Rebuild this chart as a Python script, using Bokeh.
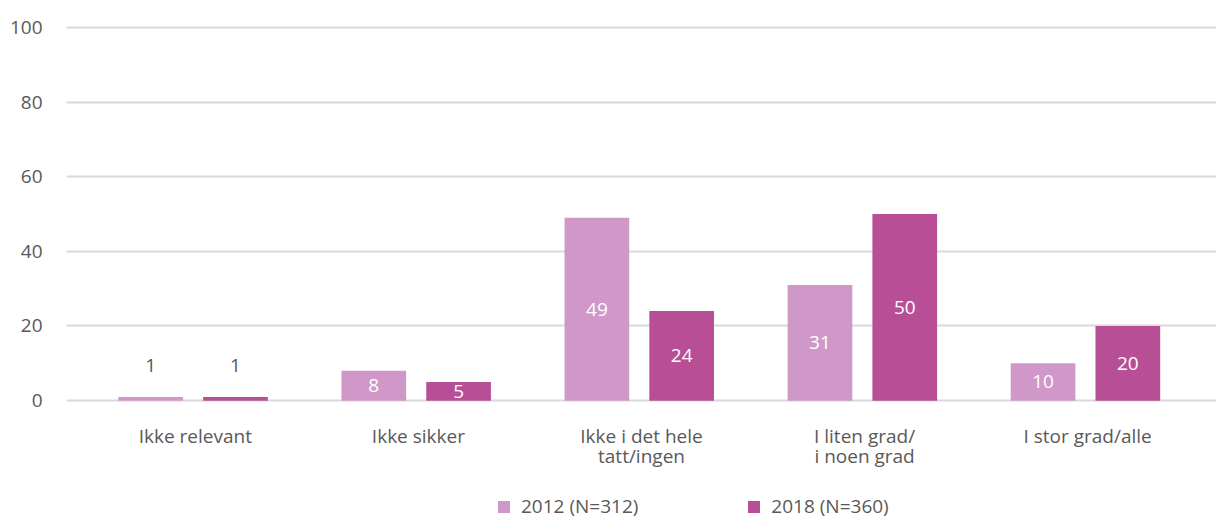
from bokeh.plotting import figure
from bokeh.layouts import column
from bokeh.models import ColumnDataSource, FactorRange, Legend, LegendItem, Range1d
from bokeh.core.properties import value
from bokeh.transform import dodge
from bokeh.embed import file_html
from bokeh.resources import INLINE

categories = ["Ikke relevant", "Ikke sikker", "Ikke i det hele\ntatt/ingen",
              "I liten grad/\ni noen grad", "I stor grad/alle"]
series_names = ["2012 (N=312)", "2018 (N=360)"]
values_2012 = [1, 8, 49, 31, 10]
values_2018 = [1, 5, 24, 50, 20]
y_ticks = [0, 20, 40, 60, 80, 100]

colors = ["#D098C8", "#B84F96"]
font = "Open Sans"
fs = "19px"
gray = "#595959"

p = figure(width=1216, height=494, output_backend="svg", toolbar_location=None,
           x_range=FactorRange(factors=categories, range_padding=0.031),
           y_range=Range1d(-0.5, 100.5), min_border_top=25, min_border_left=66,
           min_border_right=0, min_border_bottom=92, outline_line_color=None)

def label_pos(vals):
    ys, offs, cols = [], [], []
    for v in vals:
        if v < 3:
            ys.append(v); offs.append(-31); cols.append(gray)
        else:
            ys.append(v / 2); offs.append(0); cols.append("white")
    return ys, offs, cols

for vals, off, col in [(values_2012, -0.2, colors[0]), (values_2018, 0.18, colors[1])]:
    ly, lo, lc = label_pos(vals)
    src = ColumnDataSource(dict(cat=categories, val=vals, ly=ly, lo=lo, lc=lc,
                                txt=[str(v) for v in vals]))
    p.vbar(x=dodge("cat", off, range=p.x_range), top="val", bottom=0, width=0.29,
           source=src, color=col, line_color=None)
    p.text(x=dodge("cat", off, range=p.x_range), y="ly", text="txt", y_offset="lo",
           source=src, text_color="lc", text_align="center", text_baseline="middle",
           text_font_size=fs, text_font=value(font))

p.yaxis.ticker = y_ticks
p.yaxis.axis_line_color = None
p.yaxis.major_tick_line_color = None
p.yaxis.minor_tick_line_color = None
p.yaxis.major_label_text_font_size = fs
p.yaxis.major_label_text_color = gray
p.yaxis.major_label_text_font = font
p.yaxis.major_label_standoff = 18

p.xaxis.axis_line_color = None
p.xaxis.major_tick_line_color = None
p.xaxis.major_label_text_font_size = fs
p.xaxis.major_label_text_color = gray
p.xaxis.major_label_text_font = font
p.xaxis.major_label_text_line_height = 0.8
p.xaxis.major_label_standoff = 14

p.xgrid.grid_line_color = None
p.ygrid.ticker = y_ticks
p.ygrid.grid_line_color = "#D9D9D9"
p.ygrid.grid_line_width = 2

# legend strip below the chart (zero-height proxy bars carry the legend swatches)
lp = figure(width=1216, height=24, output_backend="svg", toolbar_location=None,
            x_range=Range1d(0, 1), y_range=Range1d(0, 1),
            x_axis_type=None, y_axis_type=None, min_border=0, outline_line_color=None)
lp.xgrid.grid_line_color = None
lp.ygrid.grid_line_color = None
items = []
for name, col in zip(series_names, colors):
    r = lp.vbar(x=[0.5], top=[0], bottom=0, width=0.01, color=col, line_color=None)
    items.append(LegendItem(label=name, renderers=[r]))
legend = Legend(items=items, orientation="horizontal", location=(430, -1),
                glyph_width=15, glyph_height=15, label_standoff=10, spacing=108,
                label_text_font_size=fs, label_text_color=gray, label_text_font=font,
                border_line_color=None, background_fill_alpha=0, padding=0, margin=0)
lp.add_layout(legend, "center")

layout = column(p, lp, spacing=0)
open("out.html", "w").write(file_html(layout, INLINE))
